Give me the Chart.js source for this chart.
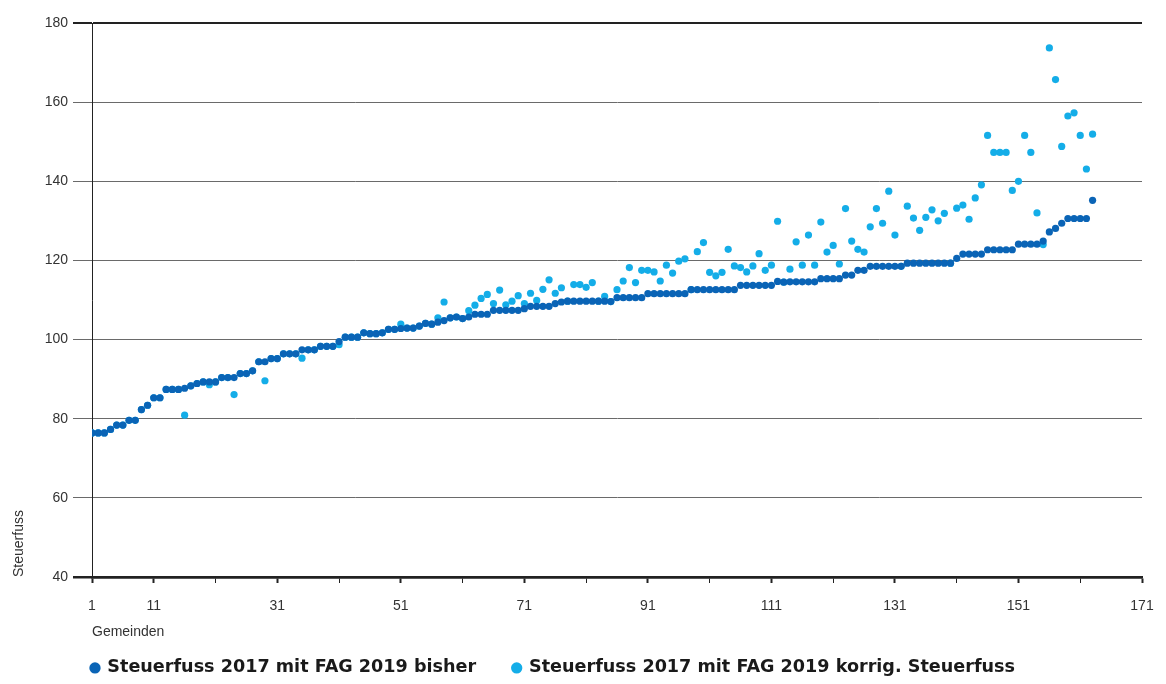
<!DOCTYPE html>
<html>
<head>
<meta charset="utf-8">
<script src="https://cdn.jsdelivr.net/npm/chart.js@4.4.1/dist/chart.umd.min.js"></script>
<style>
  html, body { margin: 0; padding: 0; background: #fff; }
  #wrap { width: 1166px; height: 684px; position: relative; }
</style>
</head>
<body>
<div id="wrap"><canvas id="chart"></canvas></div>
<script>
// Steuerfuss per Gemeinde (sorted)
const bisher = [
  76.4, 76.4, 76.4, 77.3, 78.4, 78.4, 79.6, 79.6, 82.3, 83.4,
  85.3, 85.3, 87.4, 87.4, 87.4, 87.7, 88.3, 88.9, 89.3, 89.3,
  89.3, 90.4, 90.4, 90.4, 91.4, 91.4, 92.1, 94.4, 94.4, 95.2,
  95.2, 96.4, 96.4, 96.4, 97.4, 97.4, 97.4, 98.3, 98.3, 98.3,
  99.5, 100.6, 100.6, 100.6, 101.7, 101.5, 101.5, 101.7, 102.6, 102.6,
  102.8, 102.9, 102.9, 103.4, 104.1, 103.9, 104.4, 104.8, 105.5, 105.7,
  105.3, 105.7, 106.4, 106.4, 106.4, 107.4, 107.4, 107.4, 107.4, 107.4,
  107.8, 108.4, 108.4, 108.4, 108.4, 109.1, 109.5, 109.7, 109.7, 109.7,
  109.7, 109.7, 109.7, 109.7, 109.6, 110.6, 110.6, 110.6, 110.6, 110.6,
  111.6, 111.6, 111.6, 111.6, 111.6, 111.6, 111.6, 112.6, 112.6, 112.6,
  112.6, 112.6, 112.6, 112.6, 112.6, 113.7, 113.7, 113.7, 113.7, 113.7,
  113.7, 114.7, 114.5, 114.6, 114.6, 114.6, 114.6, 114.6, 115.4, 115.4,
  115.4, 115.4, 116.3, 116.3, 117.5, 117.5, 118.5, 118.5, 118.5, 118.5,
  118.5, 118.5, 119.3, 119.3, 119.3, 119.3, 119.3, 119.3, 119.3, 119.3,
  120.5, 121.6, 121.6, 121.6, 121.6, 122.7, 122.7, 122.7, 122.7, 122.7,
  124.1, 124.1, 124.1, 124.1, 124.9, 127.2, 128.1, 129.4, 130.6, 130.6,
  130.6, 130.6, 135.2
];

const korrig = [
  76.4, 76.4, 76.4, 77.3, 78.4, 78.4, 79.6, 79.6, 82.3, 83.4,
  85.3, 85.3, 87.4, 87.4, 87.4, 80.9, 88.3, 88.9, 89.3, 88.6,
  89.3, 90.4, 90.4, 86.1, 91.4, 91.4, 92.1, 94.4, 89.6, 95.2,
  95.2, 96.4, 96.4, 96.4, 95.3, 97.4, 97.4, 98.3, 98.3, 98.3,
  98.7, 100.6, 100.6, 100.6, 101.7, 101.5, 101.5, 101.7, 102.6, 102.6,
  103.9, 102.9, 102.9, 103.4, 104.1, 103.9, 105.5, 109.5, 105.5, 105.7,
  105.3, 107.3, 108.7, 110.4, 111.4, 109.1, 112.5, 108.8, 109.7, 111.1,
  109.1, 111.7, 109.9, 112.7, 115.1, 111.7, 113.1, 109.7, 113.9, 113.9,
  113.2, 114.4, 109.7, 110.9, 109.6, 112.6, 114.8, 118.2, 114.4, 117.5,
  117.5, 117.1, 114.8, 118.8, 116.8, 119.8, 120.4, 112.6, 122.2, 124.5,
  117.0, 116.1, 117.0, 122.8, 118.6, 118.2, 117.1, 118.6, 121.7, 117.5,
  118.8, 129.9, 114.5, 117.8, 124.7, 118.8, 126.4, 118.8, 129.7, 122.1,
  123.8, 119.1, 133.1, 124.9, 122.8, 122.1, 128.5, 133.1, 129.4, 137.5,
  126.4, 118.5, 133.7, 130.7, 127.6, 130.9, 132.8, 130.0, 131.9, 119.3,
  133.2, 134.0, 130.4, 135.8, 139.1, 151.6, 147.3, 147.3, 147.3, 137.7,
  140.0, 151.6, 147.3, 132.0, 124.0, 173.7, 165.7, 148.8, 156.5, 157.3,
  151.6, 143.1, 151.9
];

// x axis: tick marks every 10, only some of them carry a label
const xTickMarks = [1, 11, 21, 31, 41, 51, 61, 71, 81, 91, 101, 111, 121, 131, 141, 151, 161, 171];
const xTickLabels = [1, 11, 31, 51, 71, 91, 111, 131, 151, 171];

const darkBlue = '#0a64b6';
const lightBlue = '#14ade8';

Chart.defaults.font.family = "'Liberation Sans', Arial, sans-serif";
Chart.defaults.color = '#333';

// the built-in legend only knows one padding value, so nudge its box into place before drawing
const legendPlacer = {
  id: 'legendPlacer',
  beforeDraw(chart) {
    const lg = chart.legend;
    const pad = lg.options.labels.padding;
    lg.left = 91.5 - pad;
    lg.top = 668 - pad - 8.9;
  }
};

const ctx = document.getElementById('chart').getContext('2d');
new Chart(ctx, {
  type: 'scatter',
  data: {
    datasets: [
      {
        label: 'Steuerfuss 2017 mit FAG 2019 bisher',
        data: bisher.map((v, i) => ({ x: i + 1, y: v })),
        backgroundColor: darkBlue,
        borderColor: darkBlue,
        borderWidth: 0,
        pointRadius: 3.6,
        order: 0
      },
      {
        label: 'Steuerfuss 2017 mit FAG 2019 korrig. Steuerfuss',
        data: korrig.map((v, i) => ({ x: i + 1, y: v })),
        backgroundColor: lightBlue,
        borderColor: lightBlue,
        borderWidth: 0,
        pointRadius: 3.6,
        order: 1
      }
    ]
  },
  options: {
    responsive: true,
    maintainAspectRatio: false,
    animation: false,
    layout: { padding: { top: 23, right: 24, left: 0, bottom: 0 } },
    plugins: {
      tooltip: { enabled: false },
      legend: {
        position: 'bottom',
        align: 'start',
        maxHeight: 41,
        labels: {
          usePointStyle: true,
          pointStyle: 'circle',
          boxWidth: 7,
          boxHeight: 8,
          padding: 37,
          color: '#1a1a1a',
          font: { family: "'DejaVu Sans', sans-serif", size: 17.6, weight: 'bold' }
        }
      }
    },
    scales: {
      x: {
        type: 'linear',
        min: 1,
        max: 171,
        afterBuildTicks: (scale) => { scale.ticks = xTickMarks.map(v => ({ value: v })); },
        afterFit: (scale) => { scale.height = 66; },
        ticks: {
          autoSkip: false,
          maxRotation: 0,
          padding: 12,
          color: '#333',
          font: { size: 14, lineHeight: 1.6 },
          callback: (v) => xTickLabels.includes(v) ? String(v) : ''
        },
        grid: {
          drawOnChartArea: false,
          drawTicks: true,
          tickLength: 6,
          tickColor: '#222',
          tickWidth: (c) => (c.tick && xTickLabels.includes(c.tick.value)) ? 2 : 1
        },
        border: { color: '#222', width: 2.5 },
        title: {
          display: true,
          text: 'Gemeinden',
          align: 'start',
          color: '#333',
          font: { size: 14 },
          padding: { top: 0, bottom: 2 }
        }
      },
      y: {
        min: 40,
        max: 180,
        afterFit: (scale) => { scale.width = 92; },
        ticks: { stepSize: 20, padding: 5, color: '#333', font: { size: 14 } },
        grid: {
          tickLength: 19,
          color: (c) => (c.tick && (c.tick.value === 180 || c.tick.value === 40)) ? '#222' : '#6a6a6a',
          lineWidth: (c) => {
            if (!c.tick) return 1;
            if (c.tick.value === 180) return 2;
            if (c.tick.value === 40) return 2.5;
            return 1;
          }
        },
        border: { color: '#222', width: 1 },
        title: {
          display: true,
          text: 'Steuerfuss',
          align: 'start',
          color: '#333',
          font: { size: 14 },
          padding: { top: 11, bottom: 0 }
        }
      }
    }
  },
  plugins: [legendPlacer]
});
</script>
</body>
</html>
